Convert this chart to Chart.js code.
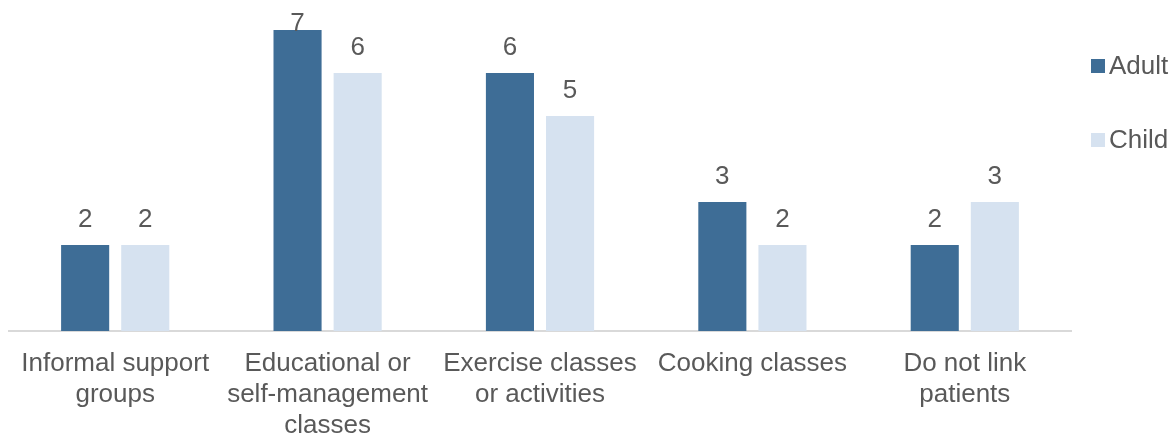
<!DOCTYPE html>
<html>
<head>
<meta charset="utf-8">
<script src="https://cdn.jsdelivr.net/npm/chart.js@4/dist/chart.umd.min.js"></script>
<style>
html,body{margin:0;padding:0;background:#fff;}
#wrap{width:1173px;height:436px;position:relative;}
</style>
</head>
<body>
<div id="wrap"><canvas id="c" width="1173" height="436"></canvas></div>
<script>
const categories = [
  ["Informal support", "groups"],
  ["Educational or", "self-management", "classes"],
  ["Exercise classes", "or activities"],
  ["Cooking classes"],
  ["Do not link", "patients"]
];
const seriesNames = ["Adult", "Child"];
const adultValues = [2, 7, 6, 3, 2];
const childValues = [2, 6, 5, 2, 3];
const colors = ["#3E6D96", "#D6E2F0"];
const FONT = "'Liberation Sans', Arial, sans-serif";
const TEXT = "#595959";

const valueLabels = {
  id: "valueLabels",
  afterDatasetsDraw(chart) {
    const ctx = chart.ctx;
    ctx.save();
    ctx.font = "26px " + FONT;
    ctx.fillStyle = TEXT;
    ctx.textAlign = "center";
    ctx.textBaseline = "alphabetic";
    chart.data.datasets.forEach((ds, i) => {
      const meta = chart.getDatasetMeta(i);
      meta.data.forEach((bar, j) => {
        let y = bar.y - 18;
        if (y < 31) y = 31;
        ctx.fillText(String(ds.data[j]), bar.x, y);
      });
    });
    ctx.restore();
  }
};

const sideLegend = {
  id: "sideLegend",
  afterDraw(chart) {
    const ctx = chart.ctx;
    ctx.save();
    ctx.font = "26px " + FONT;
    ctx.textAlign = "left";
    ctx.textBaseline = "alphabetic";
    const rows = [{sq: 59, base: 74}, {sq: 133, base: 148}];
    chart.data.datasets.forEach((ds, i) => {
      ctx.fillStyle = ds.backgroundColor;
      ctx.fillRect(1091, rows[i].sq, 14, 14);
      ctx.fillStyle = TEXT;
      ctx.fillText(ds.label, 1109, rows[i].base);
    });
    ctx.restore();
  }
};

new Chart(document.getElementById("c"), {
  type: "bar",
  data: {
    labels: categories,
    datasets: [
      {label: seriesNames[0], data: adultValues, backgroundColor: colors[0]},
      {label: seriesNames[1], data: childValues, backgroundColor: colors[1]}
    ]
  },
  options: {
    responsive: false,
    animation: false,
    devicePixelRatio: 1,
    categoryPercentage: 0.566,
    barPercentage: 0.8,
    layout: {padding: {left: 9, right: 102, top: 30, bottom: 0}},
    plugins: {legend: {display: false}, tooltip: {enabled: false}},
    scales: {
      x: {
        grid: {display: false, drawTicks: false},
        border: {display: true, color: "#D9D9D9", width: 2},
        ticks: {
          color: TEXT,
          font: {family: FONT, size: 26, lineHeight: 1.2},
          padding: 17,
          maxRotation: 0,
          autoSkip: false
        },
        afterFit(scale) { scale.height = 105; }
      },
      y: {
        display: false,
        min: 0,
        max: 7
      }
    }
  },
  plugins: [valueLabels, sideLegend]
});
</script>
</body>
</html>
